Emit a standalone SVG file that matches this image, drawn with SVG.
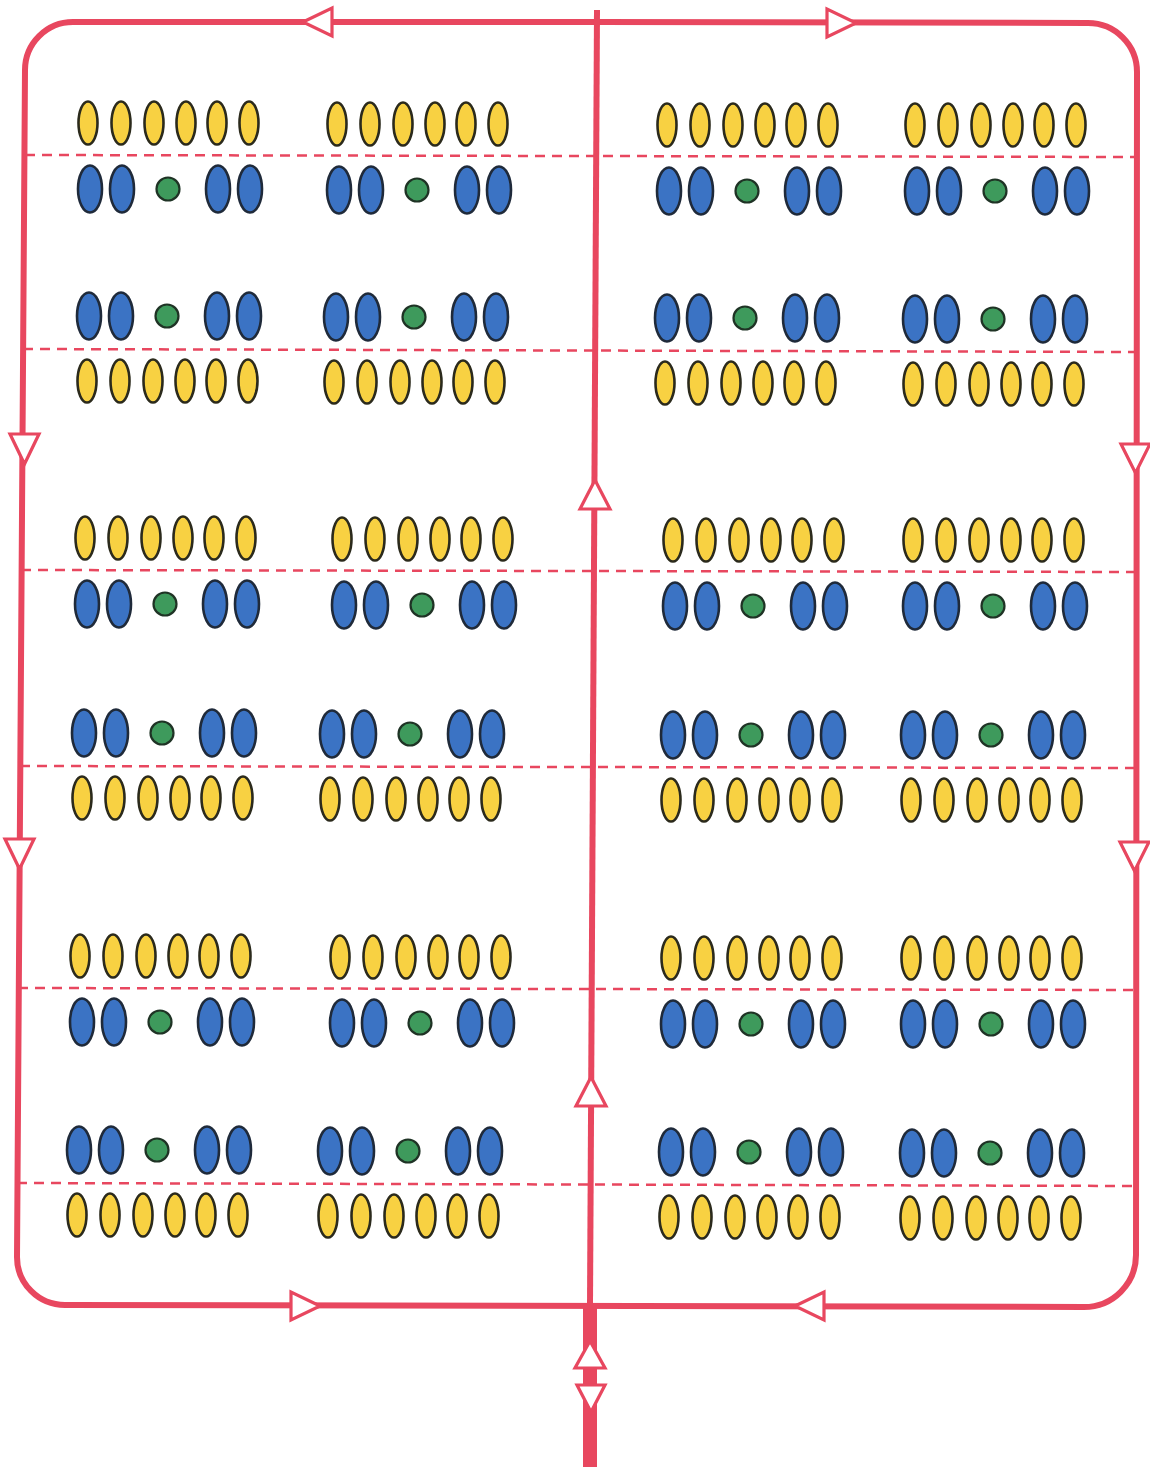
<svg xmlns="http://www.w3.org/2000/svg" xmlns:xlink="http://www.w3.org/1999/xlink" width="1150" height="1467" viewBox="0 0 1150 1467">
<style>
.loop{fill:none;stroke:#e8475f;stroke-width:6;stroke-linejoin:round}
.arr{fill:#fff;stroke:#e8475f;stroke-width:3.2;stroke-linejoin:miter}
.dash{fill:none;stroke:#e8475f;stroke-width:2.5;stroke-dasharray:10 7}
.y{fill:#f8d142;stroke:#2b2a1c;stroke-width:2.6}
.b{fill:#3b73c4;stroke:#1f2a3a;stroke-width:2.6}
.g{fill:#3e9a5c;stroke:#1f3325;stroke-width:2.2}
</style>
<defs>
<g id="rowY">
<ellipse class="y" cx="0" cy="0" rx="9.5" ry="21.5"/>
<ellipse class="y" cx="33" cy="0" rx="9.5" ry="21.5"/>
<ellipse class="y" cx="66" cy="0" rx="9.5" ry="21.5"/>
<ellipse class="y" cx="98" cy="0" rx="9.5" ry="21.5"/>
<ellipse class="y" cx="129" cy="0" rx="9.5" ry="21.5"/>
<ellipse class="y" cx="161" cy="0" rx="9.5" ry="21.5"/>
</g>
<g id="rowB">
<ellipse class="b" cx="2" cy="0" rx="12" ry="23.5"/>
<ellipse class="b" cx="34" cy="0" rx="12" ry="23.5"/>
<circle class="g" cx="80" cy="0" r="11.5"/>
<ellipse class="b" cx="130" cy="0" rx="12" ry="23.5"/>
<ellipse class="b" cx="162" cy="0" rx="12" ry="23.5"/>
</g>
<g id="unitA"><use xlink:href="#rowY" y="-32"/><use xlink:href="#rowB" y="34"/></g>
<g id="unitB"><use xlink:href="#rowB" y="-33"/><use xlink:href="#rowY" y="32"/></g>
</defs>
<rect width="1150" height="1467" fill="#fff"/>

<g id="separators">
<line class="dash" x1="25" y1="155" x2="1135" y2="157"/>
<line class="dash" x1="23" y1="349" x2="1135" y2="352"/>
<line class="dash" x1="21" y1="570" x2="1135" y2="572"/>
<line class="dash" x1="20" y1="766" x2="1135" y2="768"/>
<line class="dash" x1="18" y1="988" x2="1135" y2="990"/>
<line class="dash" x1="17" y1="1183" x2="1135" y2="1186"/>
</g>

<g id="connectors">
<path class="loop" d="M597,22 L73,22 A48,48 0 0 0 25,70 L17,1257 A48,48 0 0 0 65,1305 L1084,1307 A52,52 0 0 0 1136,1255 L1137,72 A49,49 0 0 0 1088,23 L597,22"/>
<path class="loop" d="M597,10 L590,1305"/>
<path d="M590,1305 L590,1467" fill="none" stroke="#e8475f" stroke-width="14"/>
<polygon class="arr" points="303,22 332,8 332,36"/>
<polygon class="arr" points="827,9 827,37 856,23"/>
<polygon class="arr" points="10,434 39,434 24.5,464"/>
<polygon class="arr" points="5,839 34,839 19.5,869"/>
<polygon class="arr" points="1121,444 1150,444 1135.5,473"/>
<polygon class="arr" points="1120,842 1149,842 1134.5,871"/>
<polygon class="arr" points="595,480 610,509 580,509"/>
<polygon class="arr" points="591,1077 606,1106 576,1106"/>
<polygon class="arr" points="320,1306 291,1292 291,1320"/>
<polygon class="arr" points="795,1306 824,1292 824,1320"/>
<polygon class="arr" points="590,1341 605,1368 575,1368"/>
<polygon class="arr" points="577,1385 605,1385 591,1412"/>
</g>

<g id="unit-r1c1"><use xlink:href="#unitA" x="88" y="155"/></g>
<g id="unit-r1c2"><use xlink:href="#unitA" x="337" y="156"/></g>
<g id="unit-r1c3"><use xlink:href="#unitA" x="667" y="157"/></g>
<g id="unit-r1c4"><use xlink:href="#unitA" x="915" y="157"/></g>

<g id="unit-r2c1"><use xlink:href="#unitB" x="87" y="349"/></g>
<g id="unit-r2c2"><use xlink:href="#unitB" x="334" y="350"/></g>
<g id="unit-r2c3"><use xlink:href="#unitB" x="665" y="351"/></g>
<g id="unit-r2c4"><use xlink:href="#unitB" x="913" y="352"/></g>

<g id="unit-r3c1"><use xlink:href="#unitA" x="85" y="570"/></g>
<g id="unit-r3c2"><use xlink:href="#unitA" x="342" y="571"/></g>
<g id="unit-r3c3"><use xlink:href="#unitA" x="673" y="572"/></g>
<g id="unit-r3c4"><use xlink:href="#unitA" x="913" y="572"/></g>

<g id="unit-r4c1"><use xlink:href="#unitB" x="82" y="766"/></g>
<g id="unit-r4c2"><use xlink:href="#unitB" x="330" y="767"/></g>
<g id="unit-r4c3"><use xlink:href="#unitB" x="671" y="768"/></g>
<g id="unit-r4c4"><use xlink:href="#unitB" x="911" y="768"/></g>

<g id="unit-r5c1"><use xlink:href="#unitA" x="80" y="988"/></g>
<g id="unit-r5c2"><use xlink:href="#unitA" x="340" y="989"/></g>
<g id="unit-r5c3"><use xlink:href="#unitA" x="671" y="990"/></g>
<g id="unit-r5c4"><use xlink:href="#unitA" x="911" y="990"/></g>

<g id="unit-r6c1"><use xlink:href="#unitB" x="77" y="1183"/></g>
<g id="unit-r6c2"><use xlink:href="#unitB" x="328" y="1184"/></g>
<g id="unit-r6c3"><use xlink:href="#unitB" x="669" y="1185"/></g>
<g id="unit-r6c4"><use xlink:href="#unitB" x="910" y="1186"/></g>
</svg>
